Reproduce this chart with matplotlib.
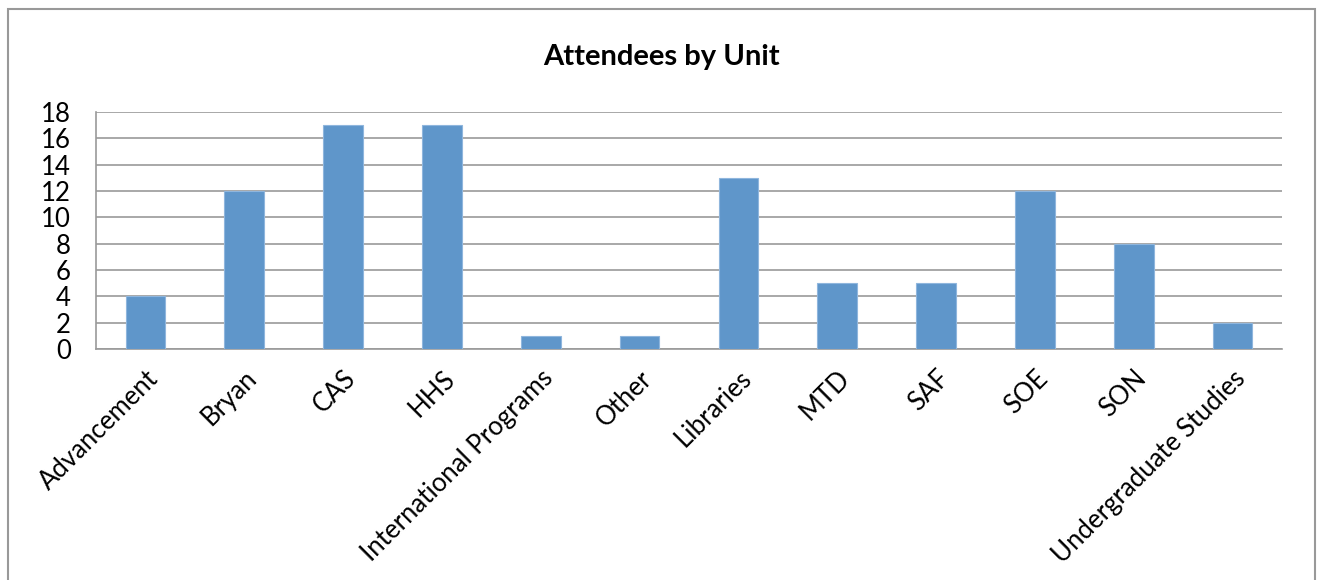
import matplotlib.pyplot as plt
from matplotlib.patches import Rectangle
import numpy as np

# データ
units = ["Advancement", "Bryan", "CAS", "HHS", "International Programs", "Other",
         "Libraries", "MTD", "SAF", "SOE", "SON", "Undergraduate Studies"]
attendees = [4, 12, 17, 17, 1, 1, 13, 5, 5, 12, 8, 2]
yticks = np.arange(0, 19, 2)

plt.rcParams['font.family'] = ['Lato', 'DejaVu Sans']

fig = plt.figure(figsize=(13.17, 5.8), dpi=100)
W, H = 1317, 580
ax = fig.add_axes([96 / W, 1 - 349 / H, (1282 - 96) / W, (349 - 112) / H])

x = np.arange(len(units))
ax.bar(x, attendees, width=0.4, color='#5F96CA', edgecolor='#8FB6DD', linewidth=0.8, zorder=3)

ax.set_xlim(-0.5, len(units) - 0.5)
ax.set_ylim(0, 18)
ax.set_yticks(yticks)
ax.set_yticklabels([str(v) for v in yticks], fontsize=18.5)
ax.set_xticks(x)
ax.set_xticklabels(units, rotation=45, ha='right', rotation_mode='anchor', fontsize=18.5)
ax.tick_params(axis='both', length=0)
ax.tick_params(axis='y', pad=18)
ax.tick_params(axis='x', pad=12)

ax.grid(axis='y', color='#9A9A9A', linewidth=1.2, zorder=0)
for s in ['top', 'right']:
    ax.spines[s].set_visible(False)
for s in ['left', 'bottom']:
    ax.spines[s].set_color('#9A9A9A')
    ax.spines[s].set_linewidth(1.2)

fig.text(661 / W, 1 - 57 / H, "Attendees by Unit", ha='center', va='center',
         fontsize=21, fontweight='bold')

# 外枠
fig.patches.append(Rectangle((8 / W, -0.1), (1315 - 8) / W, 1.1 - 9 / H,
                             transform=fig.transFigure, fill=False,
                             edgecolor='#999999', linewidth=1.5))

fig.savefig("out.png", dpi=100)
